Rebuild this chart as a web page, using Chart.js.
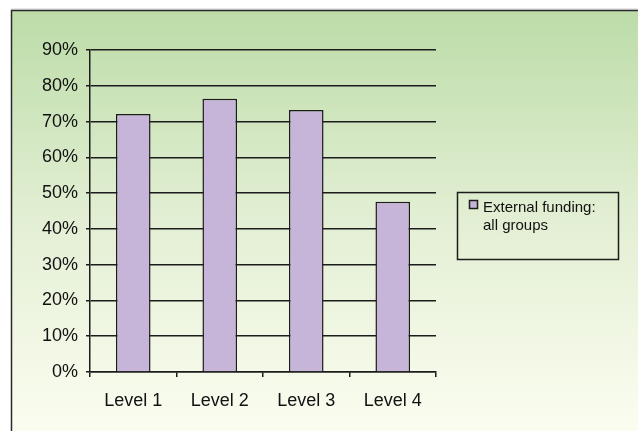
<!DOCTYPE html>
<html lang="en">
<head>
  <meta charset="UTF-8" />
  <title>External funding by level</title>
  <script src="https://cdn.jsdelivr.net/npm/chart.js"></script>
  <style>
    body { margin: 0; background: #fff; }
    canvas { display: block; }
  </style>
</head>
<body>
  <canvas id="fundingChart" width="638" height="431"></canvas>

  <script>
    // data
    const levels = ['Level 1', 'Level 2', 'Level 3', 'Level 4'];
    const externalFunding = [72.1, 76.4, 73.2, 47.6];
    const seriesLabel = ['External funding:', 'all groups'];
    const yTicks = [0, 10, 20, 30, 40, 50, 60, 70, 80, 90];

    const barFill = '#c6b5d8';
    const ink = '#1c1c1c';

    // gradient panel with a frame on top/left
    const panelBg = {
      id: 'panelBg',
      beforeDraw(chart) {
        const { ctx, width, height } = chart;
        ctx.save();
        ctx.fillStyle = '#fff';
        ctx.fillRect(0, 0, width, height);
        const g = ctx.createLinearGradient(0, 10, 0, height);
        g.addColorStop(0, '#bcdca8');
        g.addColorStop(0.5, '#e3efd4');
        g.addColorStop(1, '#fbfdf0');
        ctx.fillStyle = g;
        ctx.fillRect(11, 10, width - 11, height - 10);
        ctx.strokeStyle = '#cfcfcf';
        ctx.lineWidth = 1;
        ctx.beginPath();
        ctx.moveTo(11, 9); ctx.lineTo(width, 9);
        ctx.stroke();
        ctx.strokeStyle = '#2a2a2a';
        ctx.lineWidth = 1.5;
        ctx.beginPath();
        ctx.moveTo(11.5, height); ctx.lineTo(11.5, 10.5); ctx.lineTo(width, 10.5);
        ctx.stroke();
        ctx.restore();
      }
    };

    // boxed legend on the right
    const boxLegend = {
      id: 'boxLegend',
      afterDraw(chart) {
        const { ctx } = chart;
        ctx.save();
        ctx.strokeStyle = ink;
        ctx.lineWidth = 1.5;
        ctx.strokeRect(457.5, 192.5, 161, 67);
        ctx.fillStyle = barFill;
        ctx.fillRect(469.5, 200.5, 8, 8);
        ctx.lineWidth = 1.5;
        ctx.strokeRect(469.5, 200.5, 8, 8);
        ctx.fillStyle = '#111';
        ctx.font = '15px "Liberation Sans", Arial, sans-serif';
        ctx.textBaseline = 'alphabetic';
        ctx.fillText(seriesLabel[0], 483, 212);
        ctx.fillText(seriesLabel[1], 483, 230);
        ctx.restore();
      }
    };

    new Chart(document.getElementById('fundingChart'), {
      type: 'bar',
      data: {
        labels: levels,
        datasets: [{
          label: seriesLabel.join(' '),
          data: externalFunding,
          backgroundColor: barFill,
          borderColor: ink,
          borderWidth: 1.5,
          barPercentage: 0.4,
          categoryPercentage: 1
        }]
      },
      options: {
        responsive: false,
        animation: false,
        layout: { padding: { top: 50, right: 202, left: 0, bottom: 0 } },
        plugins: {
          legend: { display: false },
          tooltip: { enabled: false }
        },
        scales: {
          x: {
            afterFit: (s) => { s.height = 59; },
            grid: {
              offset: true,
              drawOnChartArea: false,
              drawTicks: true,
              tickLength: 5,
              color: ink,
              lineWidth: 1.5
            },
            border: { color: ink, width: 1.5 },
            ticks: {
              color: '#111',
              padding: 13,
              font: { family: '"Liberation Sans", Arial, sans-serif', size: 18 }
            }
          },
          y: {
            min: 0,
            max: 90,
            afterFit: (s) => { s.width = 90; },
            afterBuildTicks: (s) => { s.ticks = yTicks.map(v => ({ value: v })); },
            grid: { color: ink, lineWidth: 1.5, tickLength: 4 },
            border: { color: ink, width: 1.5 },
            ticks: {
              color: '#111',
              padding: 8,
              callback: (v) => v + '%',
              font: { family: '"Liberation Sans", Arial, sans-serif', size: 18 }
            }
          }
        }
      },
      plugins: [panelBg, boxLegend]
    });
  </script>
</body>
</html>
